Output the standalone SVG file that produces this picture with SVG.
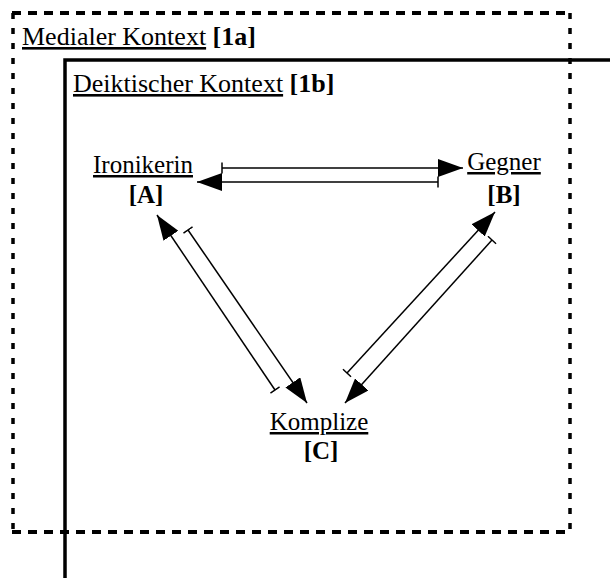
<svg xmlns="http://www.w3.org/2000/svg" width="610" height="578" viewBox="0 0 610 578">
  <style>
    text { font-family: "Liberation Serif", "Times New Roman", serif; fill: #000; }
    .ctx { font-size: 26px; }
    .lbl { font-size: 25px; text-anchor: middle; }
    .u { text-decoration: underline; }
    .b { font-weight: bold; }
    .dash-h { stroke: #000; stroke-width: 4; stroke-dasharray: 9 7; fill: none; }
    .dash-v { stroke: #000; stroke-width: 3.5; stroke-dasharray: 6 9; fill: none; }
    .frame { stroke: #000; stroke-width: 3.5; fill: none; }
    .rel { stroke: #000; stroke-width: 1.5; fill: none; marker-start: url(#tick); marker-end: url(#head); }
  </style>
  <defs>
    <marker id="head" viewBox="0 0 25 18" refX="25" refY="9" markerWidth="25" markerHeight="18" markerUnits="userSpaceOnUse" orient="auto">
      <path d="M0,0 L25,9 L0,18 Z" fill="#000"/>
    </marker>
    <marker id="tick" viewBox="-1 -6 2 12" refX="0" refY="0" markerWidth="2" markerHeight="12" markerUnits="userSpaceOnUse" orient="auto">
      <path d="M0,-5.5 V5.5" stroke="#000" stroke-width="1.5"/>
    </marker>
  </defs>

  <rect width="610" height="578" fill="#fff"/>

  <!-- medial context: dashed frame -->
  <g id="context-1a">
    <line class="dash-h" x1="12" y1="13" x2="571" y2="13"/>
    <line class="dash-h" x1="12" y1="532" x2="571" y2="532"/>
    <line class="dash-v" x1="13" y1="13" x2="13" y2="532"/>
    <line class="dash-v" x1="570" y1="13" x2="570" y2="532"/>
    <text class="ctx" x="22" y="45"><tspan class="u">Medialer Kontext</tspan> <tspan class="b">[1a]</tspan></text>
  </g>

  <!-- deictic context: solid frame running off the page -->
  <g id="context-1b">
    <path class="frame" d="M65,578 V60 H610"/>
    <text class="ctx" x="73" y="92"><tspan class="u">Deiktischer Kontext</tspan> <tspan class="b">[1b]</tspan></text>
  </g>

  <g id="node-a">
    <text class="lbl" x="143" y="173"><tspan class="u">Ironikerin</tspan></text>
    <text class="lbl b" x="146" y="203">[A]</text>
  </g>

  <g id="node-b">
    <text class="lbl" x="504" y="170"><tspan class="u">Gegner</tspan></text>
    <text class="lbl b" x="504" y="203">[B]</text>
  </g>

  <g id="node-c">
    <text class="lbl" x="319" y="430"><tspan class="u">Komplize</tspan></text>
    <text class="lbl b" x="321" y="459">[C]</text>
  </g>

  <g id="connectors">
    <!-- A <-> B -->
    <line class="rel" x1="222" y1="168" x2="463" y2="168"/>
    <line class="rel" x1="438" y1="182" x2="197" y2="182"/>
    <!-- A <-> C -->
    <line class="rel" x1="275" y1="390" x2="157" y2="215"/>
    <line class="rel" x1="188" y1="230" x2="307" y2="403"/>
    <!-- B <-> C -->
    <line class="rel" x1="347" y1="373" x2="495" y2="212"/>
    <line class="rel" x1="492" y1="240" x2="345" y2="403"/>
  </g>
</svg>
